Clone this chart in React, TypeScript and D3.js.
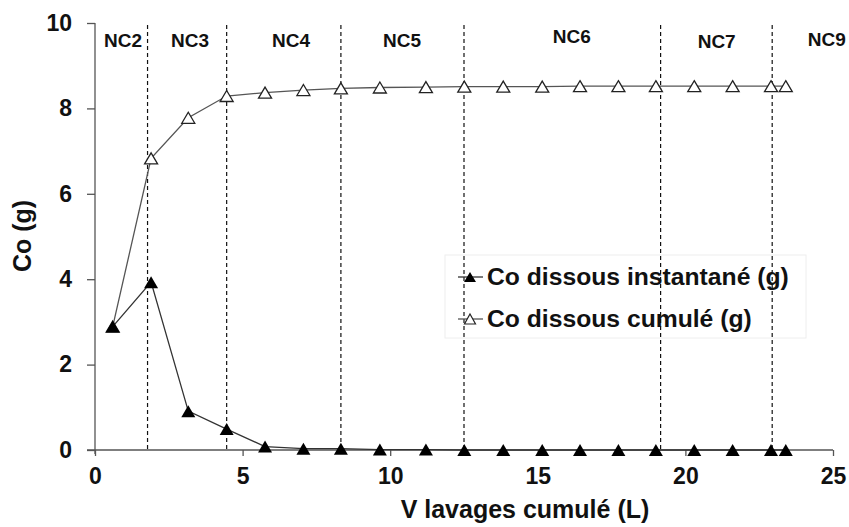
import React, { useEffect, useRef } from "react";
import * as d3 from "d3";

// volumes cumulés (L)
const volumes = [0.6, 1.9, 3.16, 4.46, 5.76, 7.06, 8.33, 9.65, 11.21, 12.51, 13.83, 15.15, 16.43, 17.73, 19.0, 20.3, 21.6, 22.9, 23.4];
const instantane = [2.89, 3.93, 0.91, 0.49, 0.08, 0.03, 0.03, 0.01, 0.01, 0, 0, 0, 0, 0, 0, 0, 0, 0, 0];
const cumule = [2.89, 6.83, 7.78, 8.29, 8.37, 8.43, 8.47, 8.49, 8.5, 8.51, 8.51, 8.51, 8.52, 8.52, 8.52, 8.52, 8.52, 8.52, 8.52];

// limites entre les cycles NC
const boundaries = [1.78, 4.46, 8.33, 12.5, 19.16, 22.94];
const cycleLabels = ["NC2", "NC3", "NC4", "NC5", "NC6", "NC7", "NC9"];
const cycleLabelX = [0.95, 3.22, 6.64, 10.4, 16.15, 21.06, 24.79];
const cycleLabelY = [9.44, 9.44, 9.44, 9.44, 9.52, 9.41, 9.45];

const xTicks = [0, 5, 10, 15, 20, 25];
const yTicks = [0, 2, 4, 6, 8, 10];

const seriesNames = ["Co dissous instantané (g)", "Co dissous cumulé (g)"];

const FONT = "'Liberation Sans', Arial, sans-serif";

const triangle = (w: number, h: number) =>
  `M0,${-h / 2}L${w / 2},${h / 2}L${-w / 2},${h / 2}Z`;

const App: React.FC = () => {
  const svgRef = useRef<SVGSVGElement | null>(null);

  useEffect(() => {
    if (!svgRef.current) return;
    const width = 849;
    const height = 527;
    const svg = d3.select(svgRef.current).attr("width", width).attr("height", height);
    svg.selectAll("*").remove();

    const x = d3.scaleLinear().domain([0, 25]).range([95, 833]);
    const y = d3.scaleLinear().domain([0, 10]).range([450, 23]);

    // cycle separators
    svg
      .selectAll("line.sep")
      .data(boundaries)
      .enter()
      .append("line")
      .attr("x1", (d) => x(d))
      .attr("x2", (d) => x(d))
      .attr("y1", y(10) + 2)
      .attr("y2", y(0))
      .attr("stroke", "#111")
      .attr("stroke-width", 1.2)
      .attr("stroke-dasharray", "4,3");

    svg
      .selectAll("text.nc")
      .data(cycleLabels)
      .enter()
      .append("text")
      .attr("x", (_, i) => x(cycleLabelX[i]))
      .attr("y", (_, i) => y(cycleLabelY[i]))
      .attr("text-anchor", "middle")
      .style("font-family", FONT)
      .style("font-weight", "bold")
      .style("font-size", "19px")
      .attr("fill", "#111")
      .text((d) => d);

    // axes
    const axisColor = "#555";
    const yAxis = svg
      .append("g")
      .attr("transform", `translate(${x(0)},0)`)
      .call(d3.axisLeft(y).tickValues(yTicks).tickSize(8).tickPadding(15));
    const xAxis = svg
      .append("g")
      .attr("transform", `translate(0,${y(0)})`)
      .call(d3.axisBottom(x).tickValues(xTicks).tickSize(6).tickPadding(12));

    [xAxis, yAxis].forEach((g) => {
      g.select(".domain").remove();
      g.selectAll("line").attr("stroke", axisColor).attr("stroke-width", 1.3);
      g.selectAll("text")
        .style("font-family", FONT)
        .style("font-weight", "bold")
        .style("font-size", "23px")
        .attr("fill", "#111");
    });
    svg
      .append("line")
      .attr("x1", x(0))
      .attr("x2", x(0))
      .attr("y1", y(10))
      .attr("y2", y(0) + 4)
      .attr("stroke", axisColor)
      .attr("stroke-width", 1.3);
    svg
      .append("line")
      .attr("x1", x(0) - 8)
      .attr("x2", x(25))
      .attr("y1", y(0))
      .attr("y2", y(0))
      .attr("stroke", axisColor)
      .attr("stroke-width", 1.3);

    // axis titles
    svg
      .append("text")
      .attr("x", 525)
      .attr("y", 518)
      .attr("text-anchor", "middle")
      .style("font-family", FONT)
      .style("font-weight", "bold")
      .style("font-size", "25px")
      .attr("fill", "#111")
      .text("V lavages cumulé (L)");
    svg
      .append("text")
      .attr("transform", "translate(31,236) rotate(-90)")
      .attr("text-anchor", "middle")
      .style("font-family", FONT)
      .style("font-weight", "bold")
      .style("font-size", "25px")
      .attr("fill", "#111")
      .text("Co (g)");

    // series
    const line = d3
      .line<number>()
      .x((_, i) => x(volumes[i]))
      .y((d) => y(d));

    svg
      .append("path")
      .datum(cumule)
      .attr("d", line)
      .attr("fill", "none")
      .attr("stroke", "#555")
      .attr("stroke-width", 1.3);
    svg
      .append("path")
      .datum(instantane)
      .attr("d", line)
      .attr("fill", "none")
      .attr("stroke", "#333")
      .attr("stroke-width", 1.3);

    svg
      .selectAll("path.cum")
      .data(cumule)
      .enter()
      .append("path")
      .attr("transform", (d, i) => `translate(${x(volumes[i])},${y(d)})`)
      .attr("d", triangle(13, 11))
      .attr("fill", "white")
      .attr("stroke", "#222")
      .attr("stroke-width", 1.3);
    svg
      .selectAll("path.inst")
      .data(instantane)
      .enter()
      .append("path")
      .attr("transform", (d, i) => `translate(${x(volumes[i])},${y(d)})`)
      .attr("d", triangle(14, 12))
      .attr("fill", "#000");

    // legend
    const legend = svg.append("g");
    legend
      .append("rect")
      .attr("x", 445)
      .attr("y", 255)
      .attr("width", 361)
      .attr("height", 83)
      .attr("fill", "none")
      .attr("stroke", "#eeeeee");
    seriesNames.forEach((name, i) => {
      const cy = 277 + i * 42;
      legend
        .append("line")
        .attr("x1", 458)
        .attr("x2", 483)
        .attr("y1", cy)
        .attr("y2", cy)
        .attr("stroke", i === 0 ? "#333" : "#555")
        .attr("stroke-width", 1.3);
      legend
        .append("path")
        .attr("transform", `translate(470,${cy})`)
        .attr("d", i === 0 ? triangle(12, 10) : triangle(11, 10))
        .attr("fill", i === 0 ? "#000" : "white")
        .attr("stroke", i === 0 ? "none" : "#222")
        .attr("stroke-width", 1.2);
      legend
        .append("text")
        .attr("x", 487)
        .attr("y", cy + 8)
        .style("font-family", FONT)
        .style("font-weight", "bold")
        .style("font-size", "24.7px")
        .attr("fill", "#111")
        .text(name);
    });
  }, []);

  return (
    <div style={{ position: "absolute", left: 0, top: 0, width: 849, height: 527, background: "white" }}>
      <svg ref={svgRef} style={{ display: "block" }}></svg>
    </div>
  );
};

export default App;
